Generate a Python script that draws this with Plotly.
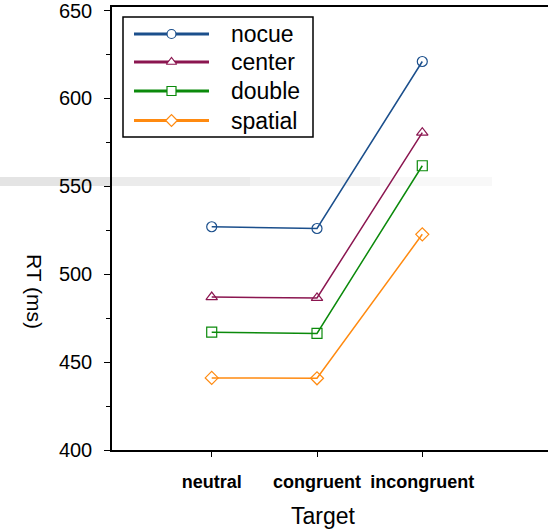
import plotly.graph_objects as go

categories = ["neutral", "congruent", "incongruent"]
series_names = ["nocue", "center", "double", "spatial"]
nocue = [527, 526, 621]
center = [487, 486.5, 580.5]
double = [467, 466.3, 561.7]
spatial = [441, 440.8, 522.7]
y_ticks = [400, 450, 500, 550, 600, 650]

colors = ["#1b4f8c", "#8b1650", "#0b8a0b", "#ff8a10"]
symbols = ["circle-open", "triangle-up-open", "square-open", "diamond-open"]
values = [nocue, center, double, spatial]

FONT = "Liberation Sans, Arial, sans-serif"
L, R, T, B = 112, 0, 7, 80
W, H = 548, 530
pw, ph = W - L - R, H - T - B

fig = go.Figure()
for name, vals, c, s in zip(series_names, values, colors, symbols):
    fig.add_trace(go.Scatter(
        x=categories, y=vals, mode="lines+markers", name=name,
        line=dict(color=c, width=1.5),
        marker=dict(symbol=s, size=10, color=c, line=dict(width=1.2, color=c)),
        showlegend=False, cliponaxis=False,
    ))

# manual legend (pixel-like overlay axis)
legend_rows = [34, 62, 91, 120.5]
for name, c, s, yy in zip(series_names, colors, symbols, legend_rows):
    fig.add_trace(go.Scatter(
        x=[134, 209], y=[yy, yy], xaxis="x2", yaxis="y2", mode="lines",
        line=dict(color=c, width=3), showlegend=False, hoverinfo="skip"))
    fig.add_trace(go.Scatter(
        x=[171.5], y=[yy], xaxis="x2", yaxis="y2", mode="markers",
        marker=dict(symbol=s.replace("-open", ""), size=9, color="white",
                    line=dict(width=1.2, color=c)),
        showlegend=False, hoverinfo="skip"))
    fig.add_annotation(x=229, y=yy, xref="x2", yref="y2", text=name,
                       showarrow=False, xanchor="left", yanchor="middle",
                       font=dict(family=FONT, size=23, color="black"))
fig.add_shape(type="rect", xref="x2", yref="y2", x0=123, x1=313, y0=17, y1=137,
              line=dict(color="black", width=1.5), fillcolor="rgba(0,0,0,0)", layer="below")

# grey band artifact
band = [(0, 112, "#e4e4e4"), (112, 250, "#ebebeb"), (250, 380, "#f1f1f1"), (380, 492, "#f8f8f8")]
for x0, x1, col in band:
    fig.add_shape(type="rect", xref="paper", yref="paper",
                  x0=(x0 - L) / pw, x1=(x1 - L) / pw,
                  y0=(H - B - 186) / ph, y1=(H - B - 177) / ph,
                  line=dict(width=0), fillcolor=col, layer="below")

fig.update_layout(
    width=W, height=H,
    margin=dict(l=L, r=R, t=T, b=B, autoexpand=False),
    paper_bgcolor="white", plot_bgcolor="rgba(0,0,0,0)",
    font=dict(family=FONT, color="black"),
    xaxis=dict(
        type="category", range=[-0.947, 3.194], automargin=False,
        showline=True, linecolor="black", linewidth=1.5, mirror=True,
        ticks="outside", ticklen=5, tickcolor="black", tickwidth=1,
        showgrid=False, zeroline=False,
        tickfont=dict(family=FONT, size=18, color="black", weight="bold"),
        ticklabelstandoff=10, ticklabeloverflow="allow",
    ),
    yaxis=dict(
        range=[400, 652], tickvals=y_ticks, automargin=False,
        showline=True, linecolor="black", linewidth=1.5,
        ticks="outside", ticklen=6, tickcolor="black", tickwidth=1,
        minor=dict(dtick=25, ticks="outside", ticklen=4, tickcolor="black", tickwidth=1),
        showgrid=False, zeroline=False,
        tickfont=dict(family=FONT, size=20, color="black"),
        ticklabelstandoff=8, ticklabeloverflow="allow",
    ),
    xaxis2=dict(overlaying="x", anchor="y2", range=[L, W], visible=False, fixedrange=True),
    yaxis2=dict(overlaying="y", anchor="x2", range=[H - B, T], visible=False, fixedrange=True),
    showlegend=False,
)

fig.add_annotation(x=(323 - L) / pw, y=(H - B - 516) / ph, xref="paper", yref="paper",
                   text="Target", showarrow=False, xanchor="center", yanchor="middle",
                   font=dict(family=FONT, size=23, color="black"))
fig.add_annotation(x=(35 - L) / pw, y=(H - B - 291) / ph, xref="paper", yref="paper",
                   text="RT (ms)", textangle=90, showarrow=False,
                   xanchor="center", yanchor="middle",
                   font=dict(family=FONT, size=21, color="black"))

fig.write_html("out.html", config={"displayModeBar": False},
               post_script="document.body.style.margin='0px';document.body.style.overflow='hidden';")
